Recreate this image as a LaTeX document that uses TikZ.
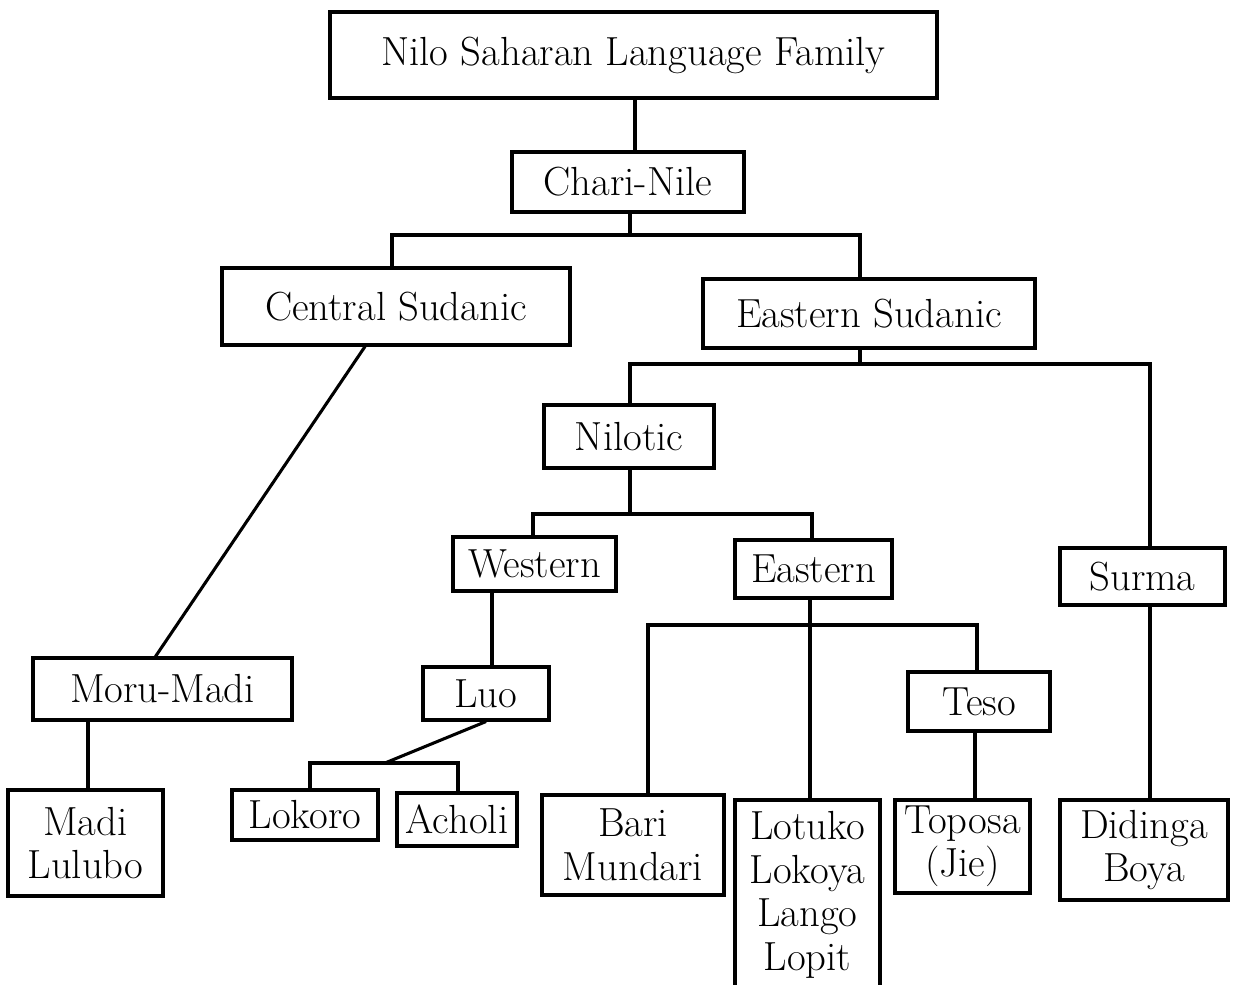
\documentclass[tikz,border=0pt]{standalone}
\begin{document}
\begin{tikzpicture}[x=0.75pt,y=-0.75pt,
  box/.style={draw, line width=2.3pt, inner sep=0pt, align=center,
    font=\fontsize{30.5}{32.6}\selectfont},
  link/.style={line width=2.3pt, line join=miter}]
\clip (0,0) rectangle (1233,985);
\fill[white] (0,0) rectangle (1233,985);

% language groups
\node[box, minimum width=607*0.75pt, minimum height=86*0.75pt] (top) at (633.5,55) {Nilo Saharan Language Family};
\node[box, minimum width=232*0.75pt, minimum height=60*0.75pt] (cn) at (628,182) {Chari-Nile};
\node[box, minimum width=348*0.75pt, minimum height=77*0.75pt] (cs) at (396,306.5) {Central Sudanic};
\node[box, minimum width=332*0.75pt, minimum height=69*0.75pt] (es) at (869,313.5) {Eastern Sudanic};
\node[box, minimum width=170*0.75pt, minimum height=63*0.75pt] (nil) at (629,436.5) {Nilotic};
\node[box, minimum width=163*0.75pt, minimum height=54*0.75pt] (wes) at (534.5,564) {Western};
\node[box, minimum width=157*0.75pt, minimum height=58*0.75pt] (eas) at (813.5,569) {Eastern};
\node[box, minimum width=165*0.75pt, minimum height=57*0.75pt] (sur) at (1142.5,576.5) {Surma};
\node[box, minimum width=126*0.75pt, minimum height=53*0.75pt] (luo) at (486,693.5) {Luo};
\node[box, minimum width=142*0.75pt, minimum height=59*0.75pt] (teso) at (979,701.5) {Teso};
\node[box, minimum width=259*0.75pt, minimum height=62*0.75pt] (moru) at (162.5,689) {Moru-Madi};

% languages
\node[box, minimum width=155*0.75pt, minimum height=106*0.75pt] (madi) at (85.5,843) {Madi\\Lulubo};
\node[box, minimum width=146*0.75pt, minimum height=50*0.75pt] (lok) at (305,815) {Lokoro};
\node[box, minimum width=120*0.75pt, minimum height=53*0.75pt] (ach) at (457,819.5) {Acholi};
\node[box, minimum width=182*0.75pt, minimum height=100*0.75pt] (bari) at (633,845) {Bari\\Mundari};
\node[box, minimum width=145*0.75pt, minimum height=190*0.75pt] (lot) at (807.5,895) {Lotuko\\Lokoya\\Lango\\Lopit};
\node[box, minimum width=135*0.75pt, minimum height=93*0.75pt] (topo) at (962.5,846.5) {Toposa\\(Jie)};
\node[box, minimum width=168*0.75pt, minimum height=100*0.75pt] (did) at (1144,850) {Didinga\\Boya};

% junction points of the tree
\coordinate (j1) at (630,235);
\coordinate (j1l) at (392,235);
\coordinate (j1r) at (860,235);
\coordinate (j2) at (860,364);
\coordinate (j2l) at (630,364);
\coordinate (j2r) at (1150,364);
\coordinate (j3) at (630,514);
\coordinate (j3l) at (533,514);
\coordinate (j3r) at (812,514);
\coordinate (j4) at (810,625);
\coordinate (j4l) at (648,625);
\coordinate (j4r) at (977,625);
\coordinate (j5) at (385,763);
\coordinate (j5l) at (310,763);
\coordinate (j5r) at (458,763);
\coordinate (c0) at (635,0);
\coordinate (c1) at (492,0);
\coordinate (c2) at (975,0);
\coordinate (c3) at (88,0);

% connectors
\draw[link] (c0 |- top.south) -- (c0 |- cn.north);
\draw[link] (cn.south -| j1) -- (j1);
\draw[link] (j1l |- cs.north) -- (j1l) -- (j1r) -- (j1r |- es.north);
\draw[link] (j2 |- es.south) -- (j2);
\draw[link] (j2l |- nil.north) -- (j2l) -- (j2r) -- (j2r |- sur.north);
\draw[link] (j3 |- nil.south) -- (j3);
\draw[link] (j3l |- wes.north) -- (j3l) -- (j3r) -- (j3r |- eas.north);
\draw[link] (c1 |- wes.south) -- (c1 |- luo.north);
\draw[link] (j4 |- eas.south) -- (j4 |- lot.north);
\draw[link] (j4l |- bari.north) -- (j4l) -- (j4r) -- (j4r |- teso.north);
\draw[link] (c2 |- teso.south) -- (c2 |- topo.north);
\draw[link] (j2r |- sur.south) -- (j2r |- did.north);
\draw[link] ([xshift=-23.25pt]cs.south) -- ([xshift=-5.25pt]moru.north);
\draw[link] (c3 |- moru.south) -- (c3 |- madi.north);
\draw[link] (luo.south) -- (j5);
\draw[link] (j5l |- lok.north) -- (j5l) -- (j5r) -- (j5r |- ach.north);
\end{tikzpicture}
\end{document}
